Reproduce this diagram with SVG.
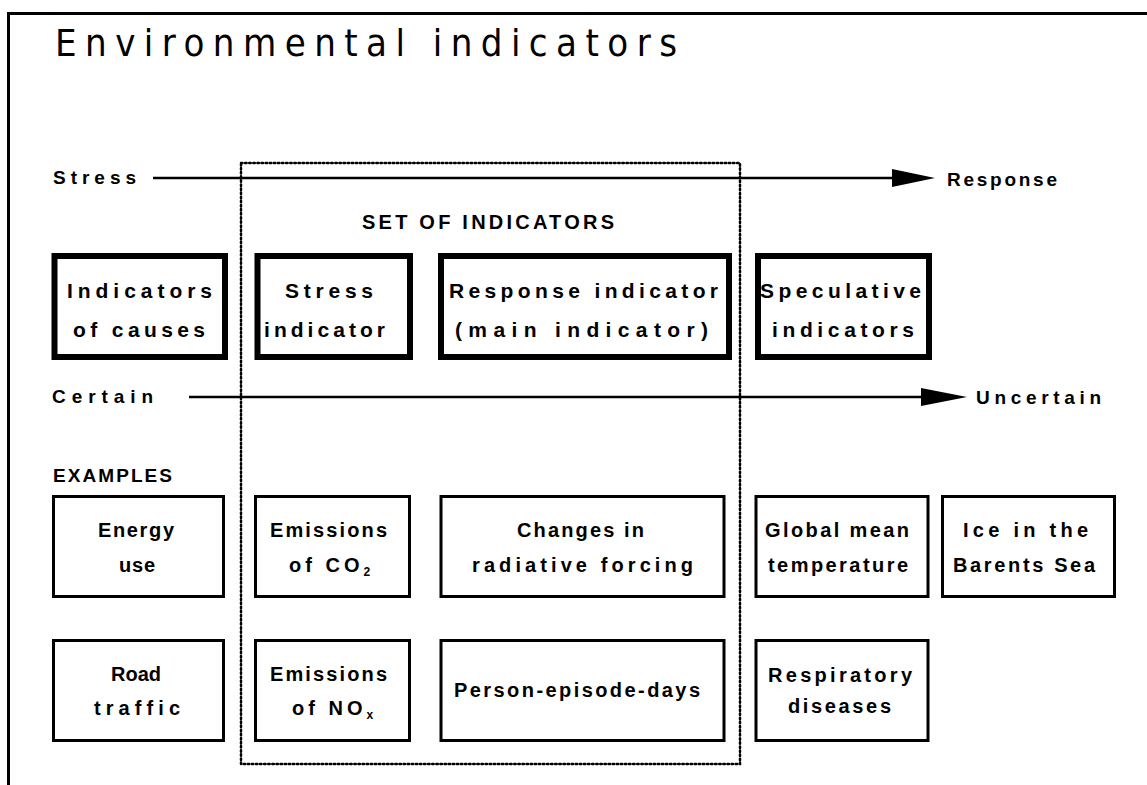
<svg xmlns="http://www.w3.org/2000/svg" width="1147" height="785" viewBox="0 0 1147 785">
<style>
  .frame{stroke:#000;stroke-width:3;fill:none}
  .thick{fill:#fff;stroke:#000;stroke-width:6}
  .thin{fill:#fff;stroke:#000;stroke-width:3}
  .dots{fill:none;stroke:#000;stroke-width:2.5;stroke-dasharray:1.5 2.6;stroke-linecap:round}
  .line{stroke:#000;stroke-width:2.5}
  .head{fill:#000}
  .title{font-family:"DejaVu Sans","Liberation Sans",sans-serif;font-stretch:condensed;font-size:38px;fill:#000}
  .lbl{font-family:"Liberation Sans",Arial,sans-serif;font-weight:bold;font-size:19px;fill:#000}
  .hdr{font-family:"Liberation Sans",Arial,sans-serif;font-weight:bold;font-size:20px;fill:#000}
  .bx{font-family:"Liberation Sans",Arial,sans-serif;font-weight:bold;font-size:21px;fill:#000}
  .ex{font-family:"Liberation Sans",Arial,sans-serif;font-weight:bold;font-size:20px;fill:#000}
  .sp{letter-spacing:4px}
  .sub{font-size:12px}
</style>
<g id="frame">
  <line class="frame" x1="7" y1="13.5" x2="1147" y2="13.5"/>
  <line class="frame" x1="8.5" y1="12" x2="8.5" y2="785"/>
</g>
<text id="title" class="title" x="55" y="56" textLength="622" lengthAdjust="spacing">Environmental indicators</text>
<g id="set-of-indicators">
  <rect class="dots" x="241" y="163" width="499" height="601"/>
  <text class="hdr" x="362" y="229" textLength="252" lengthAdjust="spacing">SET OF INDICATORS</text>
</g>
<g id="connectors">
  <line class="line" x1="153" y1="178" x2="895" y2="178"/>
  <polygon class="head" points="892,169 935,178 892,187"/>
  <line class="line" x1="189" y1="397" x2="923" y2="397"/>
  <polygon class="head" points="921,388 967,397 921,406"/>
</g>
<g id="axis-labels">
  <text class="lbl" x="53" y="184" textLength="83" lengthAdjust="spacing">Stress</text>
  <text class="lbl" x="947" y="186" textLength="110" lengthAdjust="spacing">Response</text>
  <text class="lbl" x="52" y="403" textLength="101" lengthAdjust="spacing">Certain</text>
  <text class="lbl" x="976" y="404" textLength="125" lengthAdjust="spacing">Uncertain</text>
  <text class="lbl" x="53" y="482" textLength="119" lengthAdjust="spacing">EXAMPLES</text>
</g>
<g id="node-causes">
  <rect class="thick" x="54.5" y="256" width="170.5" height="101"/>
  <text class="bx" x="67" y="298" textLength="145" lengthAdjust="spacing">Indicators</text>
  <text class="bx" x="73" y="337" textLength="132" lengthAdjust="spacing">of causes</text>
</g>
<g id="node-stress">
  <rect class="thick" x="257.5" y="256" width="152.5" height="101"/>
  <text class="bx" x="285" y="298" textLength="88" lengthAdjust="spacing">Stress</text>
  <text class="bx" x="264" y="337" textLength="121" lengthAdjust="spacing">indicator</text>
</g>
<g id="node-response">
  <rect class="thick" x="441" y="256" width="288" height="101"/>
  <text class="bx" x="449" y="298" textLength="269" lengthAdjust="spacing">Response indicator</text>
  <text class="bx" x="455" y="337" textLength="253" lengthAdjust="spacing">(main indicator)</text>
</g>
<g id="node-speculative">
  <rect class="thick" x="758" y="256" width="171" height="101"/>
  <text class="bx" x="760" y="298" textLength="161" lengthAdjust="spacing">Speculative</text>
  <text class="bx" x="772" y="337" textLength="142" lengthAdjust="spacing">indicators</text>
</g>
<g id="ex-energy">
  <rect class="thin" x="53.5" y="496.5" width="170" height="100"/>
  <text class="ex" x="98" y="537" textLength="76" lengthAdjust="spacing">Energy</text>
  <text class="ex" x="119" y="572" textLength="36" lengthAdjust="spacing">use</text>
</g>
<g id="ex-co2">
  <rect class="thin" x="255.5" y="496.5" width="154" height="100"/>
  <text class="ex" x="270" y="537" textLength="117" lengthAdjust="spacing">Emissions</text>
  <text class="ex sp" x="289" y="572">of CO<tspan class="sub" dy="4">2</tspan></text>
</g>
<g id="ex-forcing">
  <rect class="thin" x="441" y="496.5" width="283" height="100"/>
  <text class="ex" x="517" y="537" textLength="127" lengthAdjust="spacing">Changes in</text>
  <text class="ex" x="472" y="572" textLength="221" lengthAdjust="spacing">radiative forcing</text>
</g>
<g id="ex-temperature">
  <rect class="thin" x="756" y="496.5" width="172" height="100"/>
  <text class="ex" x="765" y="537" textLength="144" lengthAdjust="spacing">Global mean</text>
  <text class="ex" x="768" y="572" textLength="140" lengthAdjust="spacing">temperature</text>
</g>
<g id="ex-ice">
  <rect class="thin" x="942.5" y="496.5" width="172" height="100"/>
  <text class="ex" x="963" y="537" textLength="125" lengthAdjust="spacing">Ice in the</text>
  <text class="ex" x="953" y="572" textLength="142" lengthAdjust="spacing">Barents Sea</text>
</g>
<g id="ex-road">
  <rect class="thin" x="53.5" y="640.5" width="170" height="100"/>
  <text class="ex" x="111" y="681" textLength="50" lengthAdjust="spacing">Road</text>
  <text class="ex" x="94" y="715" textLength="86" lengthAdjust="spacing">traffic</text>
</g>
<g id="ex-nox">
  <rect class="thin" x="255.5" y="640.5" width="154" height="100"/>
  <text class="ex" x="270" y="681" textLength="117" lengthAdjust="spacing">Emissions</text>
  <text class="ex sp" x="292" y="715">of NO<tspan class="sub" dy="4">x</tspan></text>
</g>
<g id="ex-person">
  <rect class="thin" x="441" y="640.5" width="283" height="100"/>
  <text class="ex" x="454" y="697" textLength="246" lengthAdjust="spacing">Person-episode-days</text>
</g>
<g id="ex-respiratory">
  <rect class="thin" x="756" y="640.5" width="172" height="100"/>
  <text class="ex" x="768" y="682" textLength="144" lengthAdjust="spacing">Respiratory</text>
  <text class="ex" x="788" y="713" textLength="103" lengthAdjust="spacing">diseases</text>
</g>
</svg>
